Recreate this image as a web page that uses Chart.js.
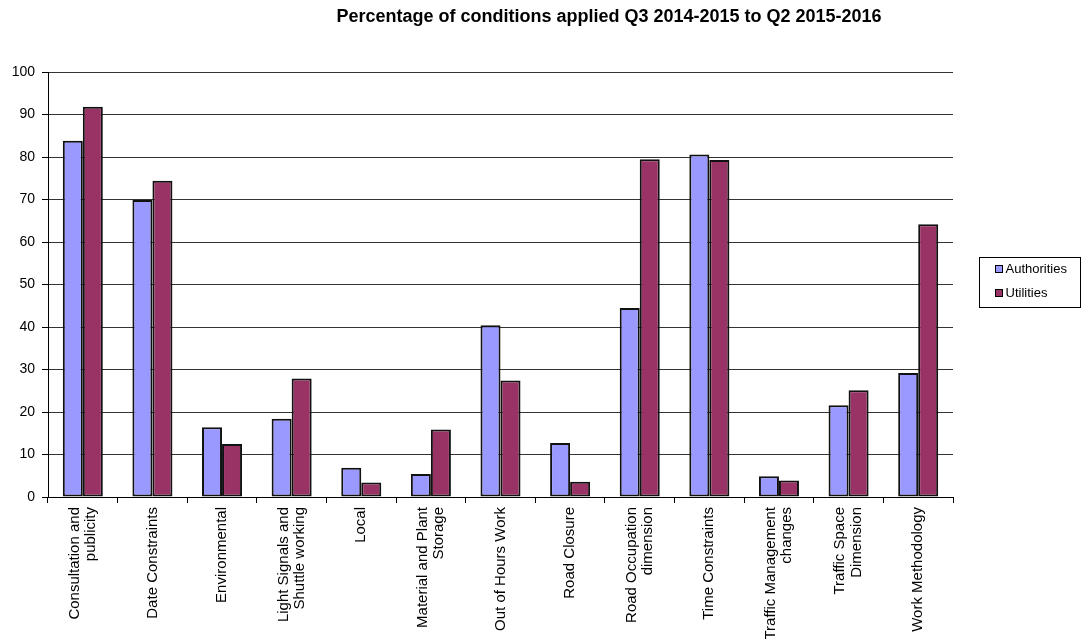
<!DOCTYPE html>
<html>
<head>
<meta charset="utf-8">
<script src="https://cdn.jsdelivr.net/npm/chart.js@4.4.1/dist/chart.umd.min.js"></script>
<style>
  html, body { margin: 0; padding: 0; background: #fff; }
  #wrap { position: relative; width: 1082px; height: 639px; }
</style>
</head>
<body>
<div id="wrap"><canvas id="c" width="1082" height="639"></canvas></div>
<script>
const titleText = "Percentage of conditions applied Q3 2014-2015 to Q2 2015-2016";
const categories = [
  ["Consultation and", "publicity"],
  "Date Constraints",
  "Environmental",
  ["Light Signals and", "Shuttle working"],
  "Local",
  ["Material and Plant", "Storage"],
  "Out of Hours Work",
  "Road Closure",
  ["Road Occupation", "dimension"],
  "Time Constraints",
  ["Traffic Management", "changes"],
  ["Traffic Space", "Dimension"],
  "Work Methodology"
];
const seriesNames = ["Authorities", "Utilities"];
const authorities = [83.8, 69.9, 16.4, 18.4, 6.9, 5.4, 40.4, 12.7, 44.5, 80.6, 4.9, 21.6, 29.2];
const utilities   = [91.8, 74.4, 12.5, 27.9, 3.4, 15.9, 27.4, 3.6, 79.5, 79.3, 3.9, 25.1, 64.2];
const yTicks = [0, 10, 20, 30, 40, 50, 60, 70, 80, 90, 100];

const FONT = "'Liberation Sans', Arial, sans-serif";

const decor = {
  id: 'decor',
  afterDraw(chart) {
    const ctx = chart.ctx;
    const ca = chart.chartArea;
    const xs = chart.scales.x;
    ctx.save();
    // title
    ctx.fillStyle = '#000';
    ctx.font = "bold 18px " + FONT;
    ctx.textAlign = 'center';
    ctx.textBaseline = 'middle';
    ctx.fillText(titleText, 609, 17);

    // x category labels, rotated, lines centred on the tick
    ctx.font = "15px " + FONT;
    ctx.textAlign = 'right';
    ctx.textBaseline = 'middle';
    const lineH = 16.5;
    chart.data.labels.forEach((lab, i) => {
      const lines = Array.isArray(lab) ? lab : [lab];
      const px = xs.getPixelForTick(i);
      lines.forEach((ln, j) => {
        const off = (j - (lines.length - 1) / 2) * lineH;
        ctx.save();
        ctx.translate(px + off, ca.bottom + 10);
        ctx.rotate(-Math.PI / 2);
        ctx.fillText(ln, 0, 0);
        ctx.restore();
      });
    });

    // legend box
    const lx = Math.round(ca.right) + 26.5, ly = 257.5, lw = 101, lh = 50;
    ctx.strokeStyle = '#000';
    ctx.lineWidth = 1;
    ctx.strokeRect(lx, ly, lw, lh);
    ctx.font = "13px " + FONT;
    ctx.textAlign = 'left';
    chart.data.datasets.forEach((ds, i) => {
      const cy = ly + 12 + i * 24;
      ctx.fillStyle = ds.backgroundColor;
      ctx.fillRect(lx + 16, cy - 4, 7, 7);
      ctx.strokeRect(lx + 16, cy - 4, 7, 7);
      ctx.fillStyle = '#000';
      ctx.fillText(ds.label, lx + 26, cy);
    });
    ctx.restore();
  }
};

new Chart(document.getElementById('c'), {
  type: 'bar',
  data: {
    labels: categories,
    datasets: [
      { label: seriesNames[0], data: authorities, backgroundColor: '#9999FF', borderColor: '#111', borderWidth: 2, borderSkipped: false },
      { label: seriesNames[1], data: utilities, backgroundColor: '#993366', borderColor: '#111', borderWidth: 2, borderSkipped: false }
    ]
  },
  options: {
    responsive: false,
    animation: false,
    devicePixelRatio: 1,
    layout: { padding: { top: 72, right: 129, left: 0, bottom: 0 } },
    plugins: {
      legend: { display: false },
      title: { display: false },
      tooltip: { enabled: false }
    },
    datasets: { bar: { categoryPercentage: 0.575, barPercentage: 1.0 } },
    scales: {
      x: {
        offset: true,
        grid: { offset: true, drawOnChartArea: false, drawTicks: true, tickLength: 6, color: '#000', tickColor: '#000' },
        border: { display: true, color: '#000', width: 1 },
        ticks: { display: false, autoSkip: false },
        afterFit(scale) { scale.height = 142; }
      },
      y: {
        min: 0, max: 100,
        afterBuildTicks(scale) { scale.ticks = yTicks.map(v => ({ value: v })); },
        grid: { color: '#333', tickColor: '#000', drawTicks: true, tickLength: 6 },
        border: { display: true, color: '#000', width: 1 },
        ticks: { padding: 7, color: '#000', font: { family: FONT, size: 14 } },
        afterFit(scale) { scale.width = 48; }
      }
    }
  },
  plugins: [decor]
});
</script>
</body>
</html>
